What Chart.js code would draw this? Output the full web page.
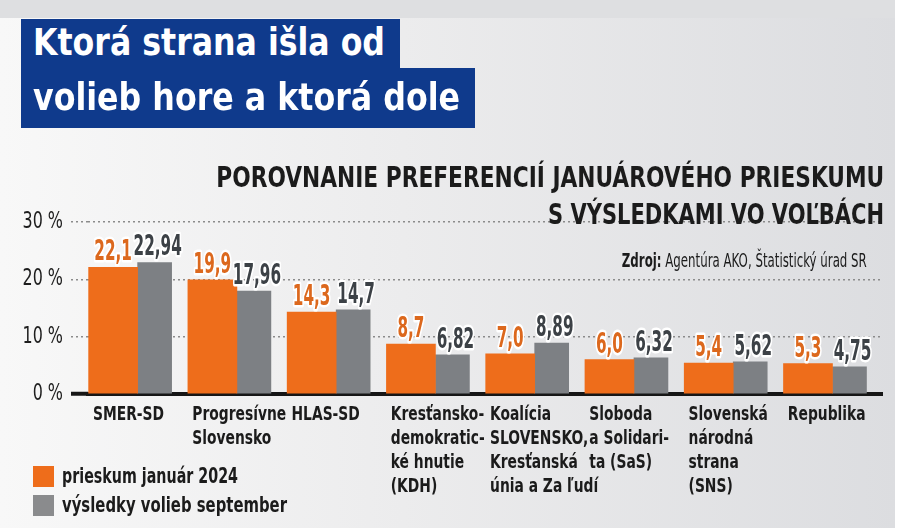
<!DOCTYPE html>
<html lang="sk">
<head>
<meta charset="utf-8">
<script src="https://cdn.jsdelivr.net/npm/chart.js@4.4.1/dist/chart.umd.min.js"></script>
<style>
  html, body { margin: 0; padding: 0; background: #fff; }
  #wrap {
    position: relative; width: 900px; height: 532px; overflow: hidden; background: #fff;
  }
  #bg {
    position: absolute; left: 0; top: 0; width: 895px; height: 528px;
    background: linear-gradient(90deg, #f8f8f8 0%, #ececed 45%, #dcdde0 100%);
  }
  #band { position: absolute; left: 0; top: 0; width: 895px; height: 18px; background: #dedfe1; }
  canvas { position: absolute; left: 0; top: 0; }
  .box { position: absolute; background: #0f3a8c; }
  .t {
    position: absolute; white-space: nowrap; margin: 0;
    font-family: "Liberation Sans Narrow", "DejaVu Sans Condensed", "Liberation Sans", sans-serif;
  }
  .title { color: #fff; font-weight: bold; font-size: 37px; line-height: 37px; left: 33px; transform-origin: left center; }
  .sub { color: #1b1b1b; font-weight: bold; font-size: 28px; line-height: 28px; right: 16px; transform-origin: right center; }
  .src { color: #1b1b1b; font-size: 19px; line-height: 19px; right: 33px; transform-origin: right center; }
  .src b { font-weight: bold; }
  .leg { color: #1b1b1b; font-weight: bold; font-size: 22px; line-height: 22px; left: 62px; transform-origin: left center; }
  .sw { position: absolute; left: 33px; width: 21px; height: 21px; }
</style>
</head>
<body>
<div id="wrap">
  <div id="bg"></div>
  <div id="band"></div>
  <canvas id="chart" width="900" height="532"></canvas>
  <div class="box" style="left:21px;top:19px;width:379px;height:50px"></div>
  <div class="box" style="left:21px;top:68px;width:454px;height:60px"></div>
  <div class="t title" id="t1" data-w="352" style="top:24px">Ktorá strana išla od</div>
  <div class="t title" id="t2" data-w="427" style="top:79px">volieb hore a ktorá dole</div>
  <div class="t sub" id="s1" data-w="668" style="top:164px">POROVNANIE PREFERENCIÍ JANUÁROVÉHO PRIESKUMU</div>
  <div class="t sub" id="s2" data-w="336" style="top:201px">S VÝSLEDKAMI VO VOĽBÁCH</div>
  <div class="t src" id="src" data-w="245" style="top:251px"><b>Zdroj:</b> Agentúra AKO, Štatistický úrad SR</div>
  <div id="legend"></div>
</div>
<script>
// categories (party names, split into lines as printed)
const parties = [
  ['SMER-SD'],
  ['Progresívne', 'Slovensko'],
  ['HLAS-SD'],
  ['Kresťansko-', 'demokratic-', 'ké hnutie', '(KDH)'],
  ['Koalícia', 'SLOVENSKO,', 'Kresťanská', 'únia a Za ľudí'],
  ['Sloboda', 'a Solidari-', 'ta (SaS)'],
  ['Slovenská', 'národná', 'strana', '(SNS)'],
  ['Republika']
];
const seriesNames = ['prieskum január 2024', 'výsledky volieb september'];
const surveyJan2024 = [22.1, 19.9, 14.3, 8.7, 7.0, 6.0, 5.4, 5.3];
const electionSep = [22.94, 17.96, 14.7, 6.82, 8.89, 6.32, 5.62, 4.75];
const yTicks = [0, 10, 20, 30];

const ORANGE = '#ee6d1b', GRAY = '#7d8084';
const NARROW = '"Liberation Sans Narrow", "DejaVu Sans Condensed", "Liberation Sans", sans-serif';

// html legend
const legend = document.getElementById('legend');
[ORANGE, '#8a8b8d'].forEach((col, i) => {
  const sw = document.createElement('div');
  sw.className = 'sw';
  sw.style.top = (466 + i * 28.5) + 'px';
  sw.style.background = col;
  legend.appendChild(sw);
  const tx = document.createElement('div');
  tx.className = 't leg';
  tx.style.top = (465 + i * 28.5) + 'px';
  tx.dataset.w = i ? 225 : 176;
  tx.textContent = seriesNames[i];
  legend.appendChild(tx);
});

// squeeze the html texts to the printed widths
document.querySelectorAll('[data-w]').forEach(el => {
  const w = el.getBoundingClientRect().width;
  el.style.transform = `scaleX(${el.dataset.w / w})`;
});

// the print uses a very narrow face: draw tick labels horizontally squeezed
const tickSqueeze = { y: 0.77, xl: 0.77 };
const squeezeTicks = {
  id: 'squeezeTicks',
  beforeDraw(chart) {
    Object.entries(tickSqueeze).forEach(([id, s]) => {
      const scale = chart.scales[id];
      if (!scale || scale._squeezed) return;
      scale._squeezed = true;
      scale._computeLabelArea = () => undefined;   // no clip, it would be squeezed too
      const drawLabels = scale.drawLabels;
      scale.drawLabels = function (area) {
        const items = this.getLabelItems(area);
        items.forEach(it => { it.options.translation[0] /= s; });
        this.ctx.save();
        this.ctx.scale(s, 1);
        drawLabels.call(this, area);
        this.ctx.restore();
        items.forEach(it => { it.options.translation[0] *= s; });
      };
    });
  }
};

const barLabels = {
  id: 'barLabels',
  afterDatasetsDraw(chart) {
    const ctx = chart.ctx;
    ctx.save();
    ctx.font = 'bold 28px ' + NARROW;
    const k = 10.6 / ctx.measureText('0').width;
    ctx.textAlign = 'center';
    ctx.textBaseline = 'alphabetic';
    ctx.lineJoin = 'round';
    ctx.lineWidth = 5;
    ctx.strokeStyle = '#fff';
    chart.data.datasets.forEach((ds, di) => {
      chart.getDatasetMeta(di).data.forEach((bar, i) => {
        const v = ds.data[i];
        const txt = (di === 0 ? v.toFixed(1) : String(v)).replace('.', ',');
        ctx.save();
        ctx.translate(bar.x + (di ? 3 : 0), bar.y - 7);
        ctx.scale(k, 1);
        ctx.strokeText(txt, 0, 0);
        ctx.fillStyle = di ? '#3c4146' : '#dc681d';
        ctx.fillText(txt, 0, 0);
        ctx.restore();
      });
    });
    ctx.restore();
  }
};

new Chart(document.getElementById('chart'), {
  type: 'bar',
  plugins: [squeezeTicks, barLabels],
  data: {
    labels: parties.map(p => p.join(' ')),
    datasets: [
      { label: seriesNames[0], data: surveyJan2024, backgroundColor: ORANGE, barThickness: 49 },
      { label: seriesNames[1], data: electionSep, backgroundColor: GRAY, barThickness: 34 }
    ]
  },
  options: {
    responsive: false,
    animation: false,
    devicePixelRatio: 1,
    layout: { padding: { top: 222, right: 8, bottom: 24, left: 0 } },
    plugins: { legend: { display: false }, tooltip: { enabled: false } },
    scales: {
      x: {
        weight: 0,
        ticks: { display: false },
        grid: { display: false, drawTicks: false },
        border: { display: true, color: '#161616', width: 4 }
      },
      xl: {
        type: 'linear', position: 'bottom', weight: 1, offset: false,
        min: -0.5, max: 7.5,
        afterBuildTicks: axis => { axis.ticks = parties.map((_, i) => ({ value: i - 0.45 })); },
        grid: { display: false, drawTicks: false },
        border: { display: false },
        ticks: {
          autoSkip: false, maxRotation: 0, minRotation: 0, align: 'start', padding: 9,
          color: '#1b1b1b',
          font: { family: NARROW, size: 20, weight: 'bold', lineHeight: 1.2 },
          callback: (v, i) => parties[i]
        }
      },
      y: {
        min: 0, max: 30,
        afterBuildTicks: axis => { axis.ticks = yTicks.map(v => ({ value: v })); },
        afterFit: axis => { axis.width = 88; },
        border: { display: false, dash: [2, 3] },
        grid: {
          color: c => c.tick.value === 0 ? 'rgba(0,0,0,0)' : '#8b8b8b',
          lineWidth: 1.5,
          tickLength: 17,
          tickColor: c => c.tick.value === 0 ? '#161616' : '#8b8b8b',
          tickWidth: c => c.tick.value === 0 ? 4 : 1.5,
          tickBorderDash: c => c.tick.value === 0 ? [] : [2, 3]
        },
        ticks: {
          padding: 8, color: '#1e1e1e',
          font: { family: NARROW, size: 23 },
          callback: v => v + ' %'
        }
      }
    }
  }
});
</script>
</body>
</html>
